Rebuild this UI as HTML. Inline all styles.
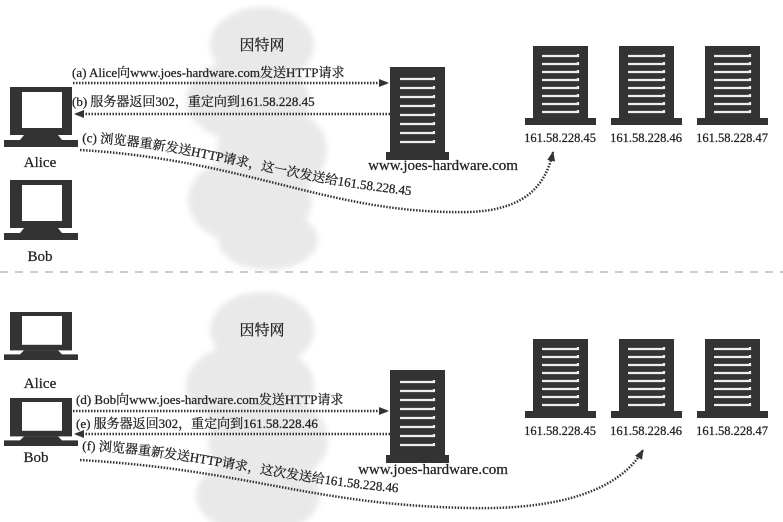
<!DOCTYPE html>
<html><head><meta charset="utf-8"><style>
body{margin:0;background:#fff}
svg{display:block}
text{font-family:"Liberation Serif","Noto Serif CJK SC",serif;fill:#222;stroke:#222;stroke-width:0.25}
</style></head><body>
<svg width="783" height="522" viewBox="0 0 783 522" xmlns="http://www.w3.org/2000/svg">
<defs>
<g id="pc">
<rect x="10" y="0" width="62" height="48" fill="#333"/>
<rect x="22" y="5" width="40" height="36" fill="#fff"/>
<path d="M24 48 L58 48 L62 53 L78 53 L78 60 L4 60 L4 53 L20 53 Z" fill="#333"/>
</g>
<g id="srv">
<rect x="0" y="0" width="55" height="72" fill="#333"/>
<rect x="-8" y="72" width="71" height="7" fill="#333"/>
<g stroke="#eee" stroke-width="2.2" fill="none">
<path d="M9 10h36v-2M9 18h36v-2M9 26h36v-2M9 34h36v-2M9 42h36v-2M9 50h36v-2M9 58h36v-2M9 66h36v-2"/>
</g>
</g>
<g id="msrv">
<rect x="0" y="0" width="55" height="85" fill="#333"/>
<rect x="-4" y="85" width="63" height="8" fill="#333"/>
<g stroke="#eee" stroke-width="2.2" fill="none">
<path d="M10 12h34v-2M10 21h34v-2M10 30h34v-2M10 39h34v-2M10 48h34v-2M10 57h34v-2M10 66h34v-2M10 75h34v-2"/>
</g>
</g>
<filter id="bl"><feGaussianBlur stdDeviation="3"/></filter>
<marker id="ah" markerWidth="10" markerHeight="8" refX="9" refY="4" orient="auto" markerUnits="userSpaceOnUse"><path d="M0 0L10 4L0 8Z" fill="#333"/></marker>
<path id="pc1" d="M82 146 C 200 150, 300 195, 462 203"/>
<path id="pc2" d="M82 454 C 200 458, 300 495, 460 500"/>
</defs>

<g fill="#e9e9e9" filter="url(#bl)">
<ellipse cx="262" cy="45" rx="52" ry="38"/>
<ellipse cx="248" cy="100" rx="62" ry="42"/>
<ellipse cx="272" cy="150" rx="55" ry="45"/>
<ellipse cx="250" cy="200" rx="62" ry="45"/>
<ellipse cx="268" cy="240" rx="50" ry="30"/>
<ellipse cx="262" cy="330" rx="52" ry="38"/>
<ellipse cx="250" cy="385" rx="64" ry="42"/>
<ellipse cx="268" cy="440" rx="60" ry="45"/>
<ellipse cx="258" cy="495" rx="62" ry="40"/>
</g>
<text x="262" y="50" font-size="15" text-anchor="middle">因特网</text>
<text x="262" y="335" font-size="15" text-anchor="middle">因特网</text>

<line x1="0" y1="272" x2="783" y2="272" stroke="#bbb" stroke-width="1.5" stroke-dasharray="8,7"/>

<use href="#pc" x="0" y="87"/>
<text x="40" y="167" font-size="15" text-anchor="middle">Alice</text>
<use href="#pc" x="0" y="180"/>
<text x="40" y="261" font-size="15" text-anchor="middle">Bob</text>
<use href="#msrv" x="390" y="67"/>
<text x="443" y="170" font-size="15" text-anchor="middle">www.joes-hardware.com</text>
<use href="#srv" x="533" y="46"/><use href="#srv" x="619" y="46"/><use href="#srv" x="705" y="46"/>
<text x="560" y="142" font-size="12.5" text-anchor="middle">161.58.228.45</text>
<text x="646" y="142" font-size="12.5" text-anchor="middle">161.58.228.46</text>
<text x="732" y="142" font-size="12.5" text-anchor="middle">161.58.228.47</text>

<g stroke="#333" stroke-width="2.5" stroke-dasharray="1.5,1.5" fill="none">
<line x1="73" y1="83" x2="388" y2="83" marker-end="url(#ah)"/>
<line x1="390" y1="114" x2="75" y2="114" marker-end="url(#ah)"/>
<path d="M80 150 C 250 160, 330 215, 470 212 C 520 210, 545 190, 553 152" marker-end="url(#ah)"/>
</g>
<text x="72" y="77" font-size="13">(a) Alice向www.joes-hardware.com发送HTTP请求</text>
<text x="72" y="106" font-size="13">(b) 服务器返回302，重定向到161.58.228.45</text>
<text font-size="13" dy="-4"><textPath href="#pc1">(c) 浏览器重新发送HTTP请求，这一次发送给161.58.228.45</textPath></text>

<g transform="translate(0,312) scale(1,0.8)"><use href="#pc"/></g>
<text x="40" y="388" font-size="15" text-anchor="middle">Alice</text>
<g transform="translate(0,398) scale(1,0.8)"><use href="#pc"/></g>
<text x="36" y="462" font-size="15" text-anchor="middle">Bob</text>
<use href="#msrv" x="390" y="370"/>
<text x="433" y="474" font-size="15" text-anchor="middle">www.joes-hardware.com</text>
<use href="#srv" x="533" y="339"/><use href="#srv" x="619" y="339"/><use href="#srv" x="705" y="339"/>
<text x="560" y="435" font-size="12.5" text-anchor="middle">161.58.228.45</text>
<text x="646" y="435" font-size="12.5" text-anchor="middle">161.58.228.46</text>
<text x="732" y="435" font-size="12.5" text-anchor="middle">161.58.228.47</text>

<g stroke="#333" stroke-width="2.5" stroke-dasharray="1.5,1.5" fill="none">
<line x1="73" y1="411" x2="388" y2="411" marker-end="url(#ah)"/>
<line x1="390" y1="434" x2="75" y2="434" marker-end="url(#ah)"/>
<path d="M80 460 C 250 470, 310 505, 470 508 C 560 510, 620 490, 643 450" marker-end="url(#ah)"/>
</g>
<text x="76" y="404" font-size="13">(d) Bob向www.joes-hardware.com发送HTTP请求</text>
<text x="76" y="428" font-size="13">(e) 服务器返回302，重定向到161.58.228.46</text>
<text font-size="13" dy="-4"><textPath href="#pc2">(f) 浏览器重新发送HTTP请求，这次发送给161.58.228.46</textPath></text>
</svg>
</body></html>
